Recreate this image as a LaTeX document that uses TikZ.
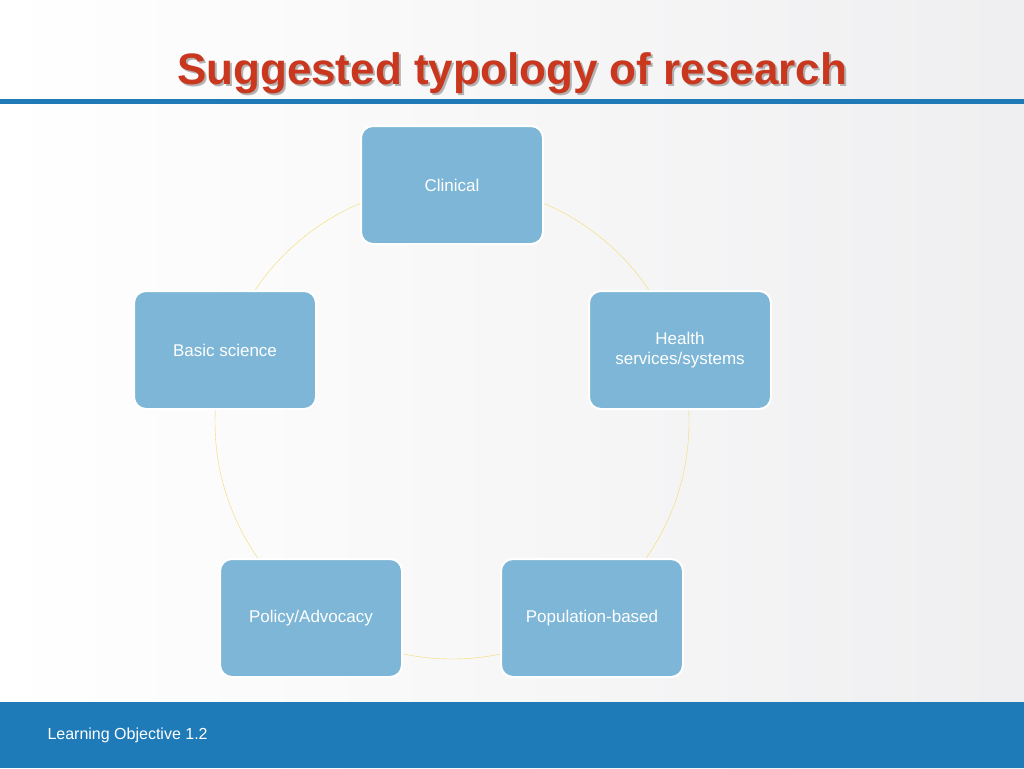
\documentclass[tikz,border=0pt]{standalone}
\usepackage{fontspec}
\setmainfont{Liberation Sans}
\usetikzlibrary{shadows}
\definecolor{boxblue}{HTML}{7DB6D6}
\definecolor{bandblue}{HTML}{1F7AB8}
\definecolor{titlered}{HTML}{C8371E}
\definecolor{ringyellow}{HTML}{F2DC6A}
\tikzset{
  typebox/.style={draw=white,line width=2pt,fill=boxblue,rounded corners=12pt,
    minimum width=182pt,minimum height=118pt,text=white,align=center,
    font=\fontsize{17}{20}\selectfont}
}
\begin{document}
\begin{tikzpicture}[x=1pt,y=-1pt]
% background
\shade[left color=white,right color=blue!6!gray!12] (0,0) rectangle (1024,768);
\useasboundingbox (0,0) rectangle (1024,768);
% title
\node[text=gray!60,font=\bfseries\fontsize{44}{50}\selectfont] at (514,75) {Suggested typology of research};
\node (title) [text=titlered,font=\bfseries\fontsize{44}{50}\selectfont] at (512,73) {Suggested typology of research};
\fill[bandblue] (0,99) rectangle (1024,104);
% ring
\draw[ringyellow,thin] (452,422) circle (237);
% boxes
\node[typebox] (clin) at (452,185) {Clinical};
\node[typebox] (hss) at (680,350) {Health\\services/systems};
\node[typebox] (pop) at (592,618) {Population-based};
\node[typebox] (pol) at (311,618) {Policy/Advocacy};
\node[typebox] (bas) at (225,350) {Basic science};
% footer
\fill[bandblue] (0,702) rectangle (1024,768);
\node (foot) [text=white,anchor=west,font=\fontsize{16}{19}\selectfont] at (44,735) {Learning Objective 1.2};
\end{tikzpicture}
\end{document}
